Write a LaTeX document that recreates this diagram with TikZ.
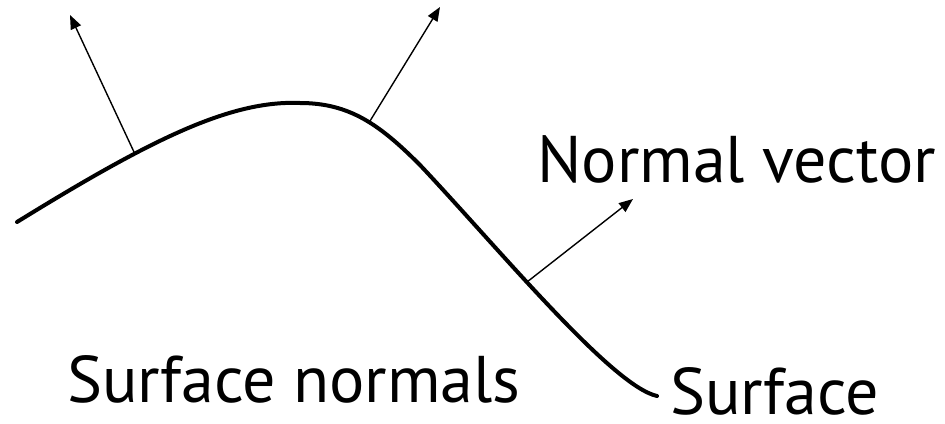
\documentclass[tikz,border=0pt]{standalone}
\usepackage{fontspec}
\newfontfamily\labelfont{PT Sans}
\usetikzlibrary{arrows.meta}

\begin{document}
\begin{tikzpicture}[
   x=1pt, y=-1pt,
   surface/.style={line width=4pt, line cap=round},
   normal/.style={line width=1.4pt, -{Triangle[length=14pt, width=11pt]}},
   caption/.style={font=\labelfont\fontsize{66}{72}\selectfont, inner sep=0pt,
                   text depth=0pt, anchor=base west}]
  \useasboundingbox (0,0) rectangle (945,423);
  % the surface
  \coordinate (s0) at (17,222);
  \coordinate (top) at (300,103);
  \coordinate (bend) at (420,165);
  \coordinate (s1) at (657,396);
  \draw[surface] (s0) .. controls (150,140) and (230,100) .. (top)
    .. controls (350,103) and (380,125) .. (bend)
    .. controls (500,250) and (612,386) .. (s1);
  % feet of the normals on the surface
  \coordinate (f1) at (134,152);
  \coordinate (f2) at (370,121);
  \coordinate (f3) at (527,282);
  % heads of the normals
  \coordinate (h1) at (70,15);
  \coordinate (h2) at (440,7);
  \coordinate (h3) at (633,199);
  \draw[normal] (f1) -- (h1);
  \draw[normal] (f2) -- (h2);
  \draw[normal] (f3) -- (h3);
  % labels
  \node[caption] (vec) at (537,182) {Normal vector};
  \node[caption] (title) at (67,402) {Surface normals};
  \node[caption] (surf) at (670,414) {Surface};
\end{tikzpicture}
\end{document}
